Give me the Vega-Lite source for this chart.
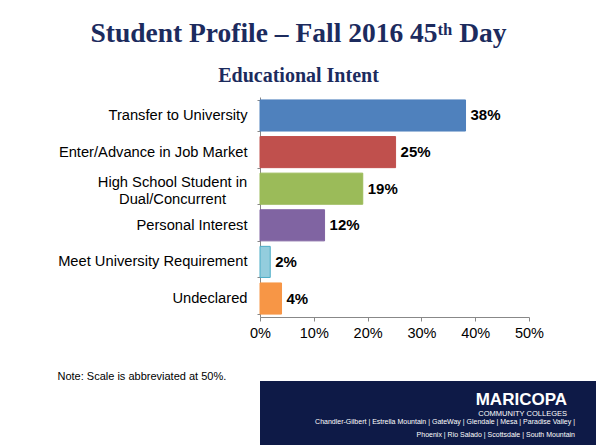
{
  "$schema": "https://vega.github.io/schema/vega-lite/v6.json",
  "background": "white",
  "padding": {"left": 57, "top": 19, "right": 0, "bottom": 0},
  "spacing": 0,
  "config": {"view": {"stroke": null}, "font": "Liberation Sans"},
  "datasets": {
    "intent": [
      {"intent": "Transfer to University", "share": 0.382},
      {"intent": "Enter/Advance in Job Market", "share": 0.252},
      {"intent": "High School Student in Dual/Concurrent", "share": 0.191},
      {"intent": "Personal Interest", "share": 0.12},
      {"intent": "Meet University Requirement", "share": 0.019},
      {"intent": "Undeclared", "share": 0.04}
    ],
    "footer": [
      {"row": 1, "text": "MARICOPA"},
      {"row": 2, "text": "COMMUNITY COLLEGES"},
      {"row": 3, "text": "Chandler-Gilbert | Estrella Mountain | GateWay | Glendale | Mesa | Paradise Valley |"},
      {"row": 4, "text": "Phoenix | Rio Salado | Scottsdale | South Mountain"}
    ]
  },
  "vconcat": [
    {
      "width": 269,
      "height": 220,
      "title": {
        "text": "Student Profile – Fall 2016 45ᵗʰ Day",
        "subtitle": "Educational Intent",
        "anchor": "middle",
        "dx": -96,
        "font": "Liberation Serif",
        "fontSize": 27.5,
        "fontWeight": "bold",
        "color": "#1C2B5E",
        "subtitleFont": "Liberation Serif",
        "subtitleFontSize": 20,
        "subtitleFontWeight": "bold",
        "subtitleColor": "#1C2B5E",
        "subtitlePadding": 19,
        "offset": 3
      },
      "data": {"name": "intent"},
      "encoding": {
        "y": {
          "field": "intent",
          "type": "nominal",
          "sort": null,
          "scale": {"paddingInner": 0.15, "paddingOuter": 0.08},
          "axis": {
            "title": null,
            "tickBand": "extent",
            "tickSize": 3,
            "labelPadding": {"condition": {"test": "datum.value == 'High School Student in Dual/Concurrent'", "value": 85}, "value": 10},
            "labelAlign": {"condition": {"test": "datum.value == 'High School Student in Dual/Concurrent'", "value": "center"}, "value": "right"},
            "labelFontSize": 14.7,
            "labelColor": "#000000",
            "labelLimit": 300,
            "labelLineHeight": 16.5,
            "labelOffset": {"condition": {"test": "datum.value == 'High School Student in Dual/Concurrent'", "value": -6}, "value": 0},
            "domainColor": "#888888",
            "tickColor": "#888888",
            "labelExpr": "datum.value == 'High School Student in Dual/Concurrent' ? ['High School Student in', 'Dual/Concurrent'] : datum.value"
          }
        },
        "x": {
          "field": "share",
          "type": "quantitative",
          "scale": {"domain": [0, 0.5]},
          "axis": {
            "title": "Note:  Scale is abbreviated at 50%.",
            "values": [0, 0.1, 0.2, 0.3, 0.4, 0.5],
            "format": ".0%",
            "grid": false,
            "labelFlush": false,
            "tickSize": 4,
            "labelPadding": 5,
            "labelFontSize": 14.5,
            "labelColor": "#000000",
            "domainColor": "#888888",
            "tickColor": "#888888",
            "titleFontSize": 11,
            "titleFontWeight": "normal",
            "titleColor": "#000000",
            "titleAnchor": "start",
            "titleAlign": "left",
            "titleX": -203,
            "titleY": 62,
            "titleBaseline": "alphabetic"
          }
        }
      },
      "layer": [
        {
          "mark": {"type": "bar", "strokeWidth": 1},
          "encoding": {
            "color": {
              "field": "intent",
              "type": "nominal",
              "legend": null,
              "scale": {
                "domain": ["Transfer to University", "Enter/Advance in Job Market", "High School Student in Dual/Concurrent", "Personal Interest", "Meet University Requirement", "Undeclared"],
                "range": ["#4F81BD", "#C0504D", "#9BBB59", "#8064A2", "#93CDDD", "#F79646"]
              }
            },
            "stroke": {
              "field": "intent",
              "type": "nominal",
              "legend": null,
              "scale": {
                "domain": ["Transfer to University", "Enter/Advance in Job Market", "High School Student in Dual/Concurrent", "Personal Interest", "Meet University Requirement", "Undeclared"],
                "range": ["#4F81BD", "#C0504D", "#9BBB59", "#8064A2", "#4BACC6", "#F79646"]
              }
            }
          }
        },
        {
          "mark": {"type": "text", "align": "left", "baseline": "middle", "dx": 5, "font": "Liberation Sans", "fontWeight": "bold", "fontSize": 15, "color": "#000000"},
          "encoding": {"text": {"field": "share", "type": "quantitative", "format": ".0%"}}
        }
      ]
    },
    {
      "width": 336,
      "height": 64,
      "view": {"fill": "#0E1A47", "stroke": null},
      "data": {"name": "footer"},
      "encoding": {
        "y": {"field": "row", "type": "ordinal", "axis": null, "scale": {"padding": 1.38, "align": 0.58}},
        "x": {"value": "width"},
        "text": {"field": "text", "type": "nominal"}
      },
      "layer": [
        {
          "transform": [{"filter": "datum.row == 1"}],
          "mark": {"type": "text", "align": "right", "baseline": "middle", "dx": -29, "dy": 4, "font": "Liberation Sans", "fontWeight": "bold", "fontSize": 17, "color": "#FFFFFF"}
        },
        {
          "transform": [{"filter": "datum.row == 2"}],
          "mark": {"type": "text", "align": "right", "baseline": "middle", "dx": -29, "dy": 5, "font": "Liberation Sans", "fontSize": 7.5, "color": "#FFFFFF"}
        },
        {
          "transform": [{"filter": "datum.row > 2"}],
          "mark": {"type": "text", "align": "right", "baseline": "middle", "dx": -21, "dy": 1, "font": "Liberation Sans", "fontSize": 7, "color": "#FFFFFF"}
        }
      ]
    }
  ]
}
